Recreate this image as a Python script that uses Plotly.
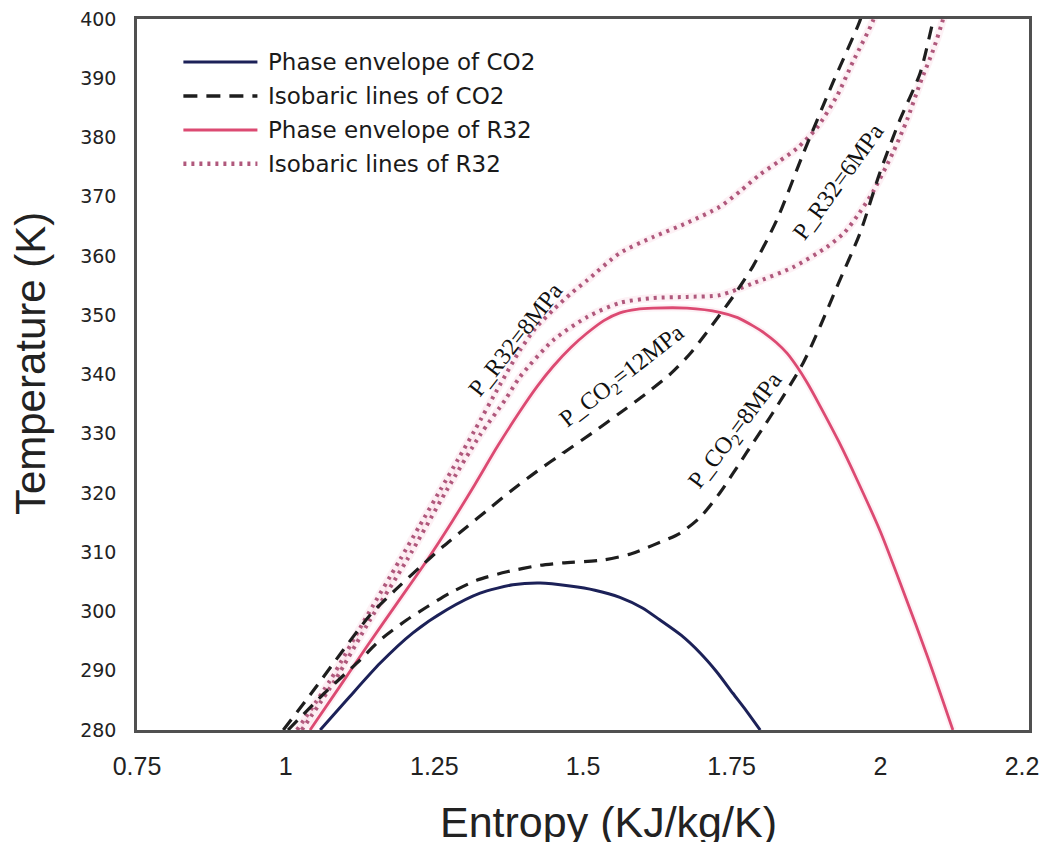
import plotly.graph_objects as go

# ---- CO2 saturation dome (entropy kJ/kg/K, temperature K) ----
co2_env_s = [1.058, 1.103, 1.159, 1.214, 1.271, 1.327, 1.382, 1.428, 1.478, 1.520, 1.562, 1.600, 1.629, 1.665,
             1.697, 1.725, 1.752, 1.775, 1.798]
co2_env_T = [280.0, 285.1, 291.3, 296.4, 300.3, 303.1, 304.5, 304.8, 304.3, 303.6, 302.4, 300.6, 298.6, 296.0,
             293.0, 289.8, 286.2, 283.2, 280.0]

# ---- CO2 isobar, 8 MPa ----
co2_8_s = [1.004, 1.065, 1.125, 1.159, 1.204, 1.238, 1.276, 1.322, 1.372, 1.428, 1.466, 1.534, 1.580, 1.618,
           1.663, 1.697, 1.730, 1.775, 1.819, 1.870, 1.900, 1.927, 1.966, 1.999, 2.033, 2.067, 2.089, 2.095]
co2_8_T = [280.0, 286.2, 291.8, 295.2, 298.6, 300.8, 303.1, 305.3, 306.7, 307.8, 308.2, 308.7, 309.7, 311.2,
           313.2, 315.9, 320.0, 326.8, 333.5, 341.9, 348.4, 354.8, 363.9, 374.0, 383.0, 390.9, 399.8, 402.0]

# ---- CO2 isobar, 12 MPa ----
co2_12_s = [0.996, 1.041, 1.091, 1.142, 1.184, 1.226, 1.265, 1.305, 1.344, 1.382, 1.423, 1.466, 1.515,
            1.562, 1.605, 1.646, 1.680, 1.708, 1.752, 1.786, 1.826, 1.870, 1.920, 1.966, 1.972]
co2_12_T = [280.0, 285.9, 292.7, 299.4, 303.6, 307.5, 311.0, 314.3, 317.5, 320.6, 323.7, 326.7, 330.1,
            333.5, 336.7, 340.0, 343.5, 347.1, 353.1, 358.3, 366.1, 377.2, 389.2, 399.8, 402.0]

# ---- R32 saturation dome ----
r32_env_s = [1.041, 1.090, 1.138, 1.188, 1.238, 1.280, 1.318, 1.357, 1.394, 1.423, 1.450, 1.480, 1.507,
             1.535, 1.562, 1.590, 1.618, 1.675, 1.730, 1.760, 1.786, 1.805, 1.825, 1.843, 1.860, 1.877,
             1.898, 1.930, 1.961, 2.000, 2.038, 2.080, 2.122]
r32_env_T = [280.0, 287.2, 294.3, 301.5, 308.7, 315.2, 321.4, 328.0, 333.8, 338.0, 341.4, 344.6, 347.0,
             349.1, 350.4, 351.0, 351.2, 351.2, 350.5, 349.6, 348.2, 347.0, 345.4, 343.6, 341.3, 338.6,
             334.8, 328.7, 322.2, 313.5, 303.6, 292.2, 280.0]

# ---- R32 isobar, 8 MPa ----
r32_8_s = [1.019, 1.075, 1.133, 1.192, 1.226, 1.260, 1.290, 1.318, 1.360, 1.394, 1.420, 1.450, 1.480, 1.507,
           1.562, 1.618, 1.675, 1.730, 1.765, 1.798, 1.830, 1.860, 1.893, 1.927, 1.954, 1.988, 1.993]
r32_8_T = [280.0, 288.4, 298.6, 308.7, 314.6, 320.5, 325.7, 330.6, 338.2, 344.1, 347.8, 350.9, 353.7, 355.9,
           360.5, 363.2, 365.6, 368.3, 371.0, 373.8, 376.0, 378.2, 381.6, 387.0, 392.8, 399.8, 402.0]

# ---- R32 isobar, 6 MPa ----
r32_6_s = [1.027, 1.083, 1.142, 1.204, 1.271, 1.327, 1.369, 1.394, 1.450, 1.507, 1.562, 1.618, 1.675,
           1.730, 1.786, 1.853, 1.910, 1.940, 1.965, 1.988, 2.021, 2.045, 2.067, 2.089, 2.105, 2.110]
r32_6_T = [280.0, 288.4, 298.6, 308.7, 320.5, 329.8, 335.7, 339.6, 345.8, 349.7, 352.1, 352.9, 353.1,
           353.4, 355.4, 358.1, 361.5, 364.0, 367.3, 370.9, 377.4, 383.0, 389.2, 394.8, 399.8, 402.0]

# ---- inline labels: text, entropy, temperature, angle ----
label_text = ["P_R32=8MPa", "P_CO<sub>2</sub>=12MPa", "P_CO<sub>2</sub>=8MPa", "P_R32=6MPa"]
label_s = [1.387, 1.567, 1.758, 1.930]
label_T = [346.0, 339.5, 330.5, 372.6]
label_angle = [-52, -38, -53, -54]

legend_names = ["Phase envelope of CO2", "Isobaric lines of CO2",
                "Phase envelope of R32", "Isobaric lines of R32"]

NAVY = "#1c2158"
DARK = "#1e1e1e"
PINK = "#dc4a72"
DOT = "#b0587c"
HALO = "rgba(240,150,180,0.13)"

fig = go.Figure()

def add_line(xs, ys, color, width, dash, halo=False):
    if halo:
        fig.add_trace(go.Scatter(x=xs, y=ys, mode="lines", showlegend=False, hoverinfo="skip",
                                 line=dict(color=HALO, width=width + 4, shape="spline", smoothing=0.7)))
    fig.add_trace(go.Scatter(x=xs, y=ys, mode="lines", showlegend=False,
                             line=dict(color=color, width=width, dash=dash, shape="spline", smoothing=0.7)))

add_line(r32_8_s, r32_8_T, DOT, 4, "3px,5px", halo=True)
add_line(r32_6_s, r32_6_T, DOT, 4, "3px,5px", halo=True)
add_line(r32_env_s, r32_env_T, PINK, 2.8, "solid", halo=True)
add_line(co2_12_s, co2_12_T, DARK, 3.2, "13px,9px")
add_line(co2_8_s, co2_8_T, DARK, 3.2, "13px,9px")
add_line(co2_env_s, co2_env_T, NAVY, 3, "solid")

for txt, sx, ty, ang in zip(label_text, label_s, label_T, label_angle):
    fig.add_annotation(x=sx, y=ty, text=txt, textangle=ang, showarrow=False,
                       font=dict(family="Liberation Serif", size=24, color="#111"))

# legend drawn inside the plotting area
leg_y = [0.9395, 0.8918, 0.8440, 0.7963]
leg_styles = [(NAVY, 3, "solid"), (DARK, 3.5, "14px,9px"), (PINK, 3, "solid"), (DOT, 4.5, "3px,5px")]
for name, yy, (c, w, d) in zip(legend_names, leg_y, leg_styles):
    fig.add_shape(type="line", xref="paper", yref="paper", x0=0.052, x1=0.135, y0=yy, y1=yy,
                  line=dict(color=c, width=w, dash=d))
    fig.add_annotation(xref="paper", yref="paper", x=0.1445, y=yy, text=name, showarrow=False,
                       xanchor="left", yanchor="middle",
                       font=dict(family="DejaVu Sans", size=23, color="#1a1a1a"))

# axis titles
fig.add_annotation(xref="paper", yref="paper", x=0.529, y=-0.093, yanchor="top",
                   text="Entropy (KJ/kg/K)", showarrow=False,
                   font=dict(family="Liberation Sans", size=43, color="#222"))
fig.add_annotation(xref="paper", yref="paper", x=-0.12, y=0.516, xanchor="center",
                   text="Temperature (K)", textangle=-90, showarrow=False,
                   font=dict(family="Liberation Sans", size=42, color="#222"))

fig.update_layout(
    width=1039, height=842,
    margin=dict(l=137, r=10, t=19, b=112, autoexpand=False),
    paper_bgcolor="white", plot_bgcolor="white",
    showlegend=False,
    xaxis=dict(range=[0.75, 2.25], dtick=0.25, tick0=0.75, showgrid=False, zeroline=False,
               showline=True, mirror=True, linecolor="#505050", linewidth=2.5,
               ticks="outside", ticklen=12, tickcolor="rgba(0,0,0,0)",
               ticklabeloverflow="allow", automargin=False,
               tickfont=dict(family="Liberation Sans", size=25, color="#222")),
    yaxis=dict(range=[280, 400], dtick=10, showgrid=False, zeroline=False,
               showline=True, mirror=True, linecolor="#505050", linewidth=2.5,
               ticks="outside", ticklen=14, tickcolor="rgba(0,0,0,0)", automargin=False,
               tickfont=dict(family="DejaVu Sans", size=19, color="#222")),
)

fig.write_html("out.html")
